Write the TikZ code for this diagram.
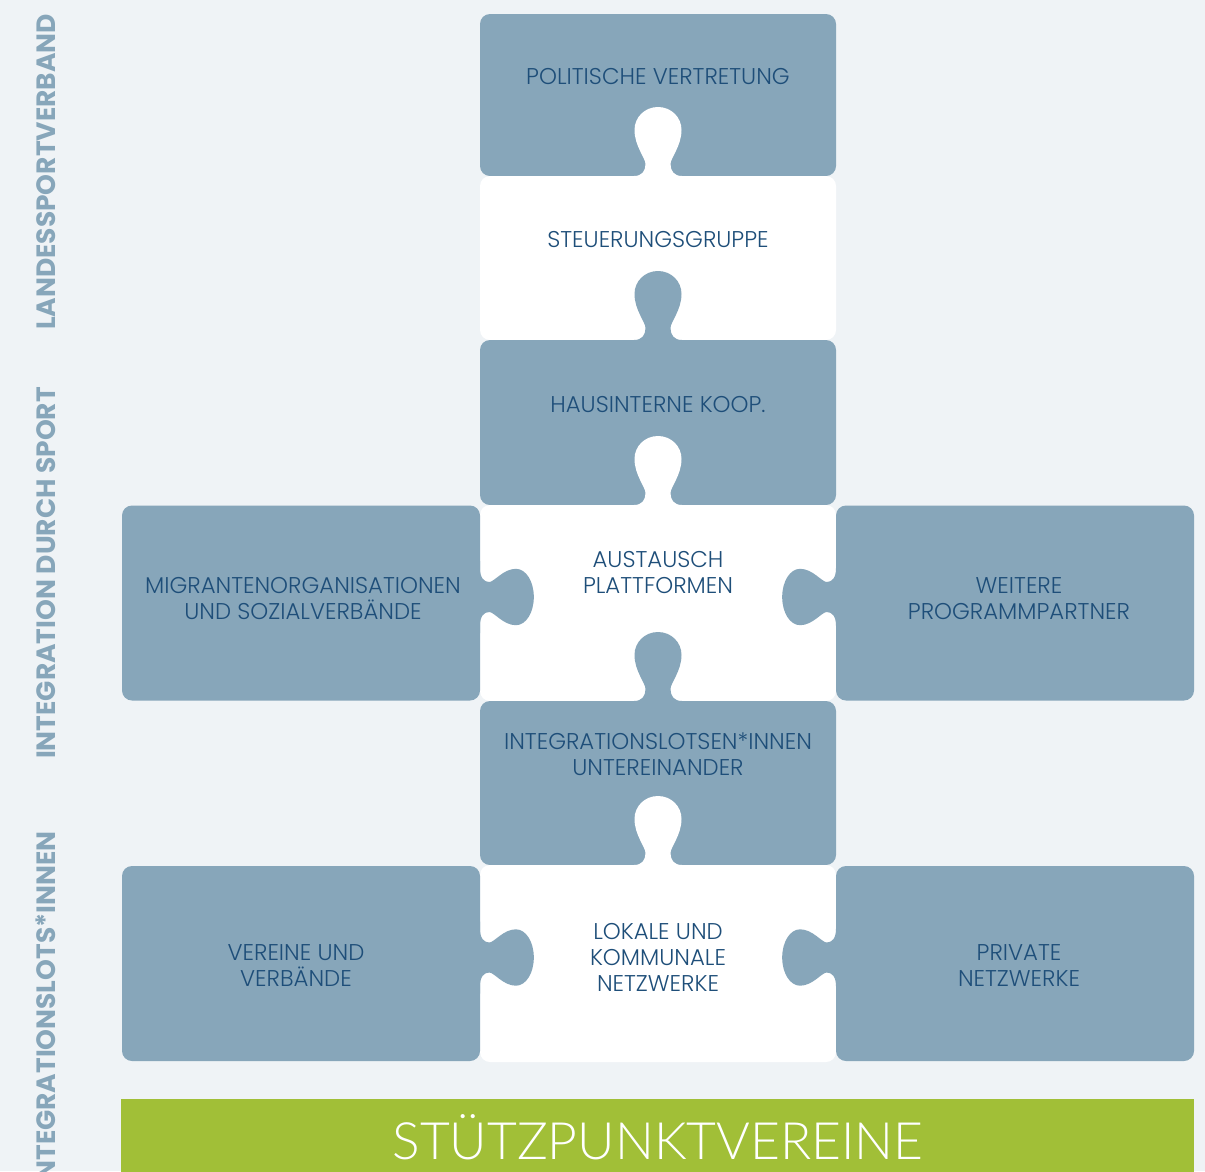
\documentclass[tikz,border=0pt]{standalone}
\usepackage{fontspec}
\setmainfont{Poppins}
\newfontfamily\lightfont{Poppins}[UprightFont=* Light]
\newfontfamily\barfont{Lato}[UprightFont=* Light]
\usetikzlibrary{positioning}

\definecolor{pieceblue}{RGB}{135,166,186}
\definecolor{bgblue}{RGB}{239,243,246}
\definecolor{textblue}{RGB}{30,78,121}
\definecolor{bargreen}{RGB}{161,191,55}

\begin{document}
\begin{tikzpicture}[x=1pt, y=-1pt,
  piece/.style={rounded corners=10pt, minimum width=356pt, inner sep=0pt, outer sep=0pt},
  bluepiece/.style={piece, fill=pieceblue},
  whitepiece/.style={piece, fill=white},
  sidepiece/.style={rounded corners=10pt, fill=pieceblue, minimum width=358pt,
    minimum height=195pt, inner sep=0pt, outer sep=0pt},
  lbl/.style={text=textblue, align=center, font=\lightfont\fontsize{22.8}{26}\selectfont},
  sidelbl/.style={text=pieceblue, rotate=90, font=\bfseries\fontsize{26.5}{26.5}\selectfont},
  knob/.pic={
    \fill[pic actions] (-30,3) -- (-30,0) -- (-24,0)
      .. controls (-16,0) and (-12.5,-5) .. (-12.5,-12)
      .. controls (-12.5,-18) and (-23.5,-30) .. (-23.5,-46)
      .. controls (-23.5,-59) and (-13,-69) .. (0,-69)
      .. controls (13,-69) and (23.5,-59) .. (23.5,-46)
      .. controls (23.5,-30) and (12.5,-18) .. (12.5,-12)
      .. controls (12.5,-5) and (16,0) .. (24,0) -- (30,0) -- (30,3) -- cycle;
  }]

  \fill[bgblue] (0,0) rectangle (1205,1171);
  \useasboundingbox (0,0) rectangle (1205,1171);

  % middle column
  \node[bluepiece, minimum height=162pt, anchor=north] (polit) at (658,14) {};
  \node[whitepiece, minimum height=164pt, below=0pt of polit] (steuer) {};
  \node[bluepiece, minimum height=165pt, below=0pt of steuer] (haus) {};
  \node[whitepiece, minimum height=196pt, below=0pt of haus] (austausch) {};
  \node[bluepiece, minimum height=164pt, below=0pt of austausch] (lotsen) {};
  \node[whitepiece, minimum height=197pt, below=0pt of lotsen] (lokal) {};

  % side pieces
  \node[sidepiece, left=0pt of austausch] (migr) {};
  \node[sidepiece, right=0pt of austausch] (weitere) {};
  \node[sidepiece, left=0pt of lokal] (vereine) {};
  \node[sidepiece, right=0pt of lokal] (privat) {};

  % knobs
  \pic[fill=white] at (steuer.north) {knob};
  \pic[fill=pieceblue] at (haus.north) {knob};
  \pic[fill=white] at (austausch.north) {knob};
  \pic[fill=pieceblue] at (lotsen.north) {knob};
  \pic[fill=white] at (lokal.north) {knob};
  \pic[fill=pieceblue, rotate=-90, xscale=1.2, yscale=0.78] at ([yshift=6pt]migr.east) {knob};
  \pic[fill=pieceblue, rotate=90, xscale=1.2, yscale=0.78] at ([yshift=6pt]weitere.west) {knob};
  \pic[fill=pieceblue, rotate=-90, xscale=1.2, yscale=0.78] at ([yshift=6pt]vereine.east) {knob};
  \pic[fill=pieceblue, rotate=90, xscale=1.2, yscale=0.78] at ([yshift=6pt]privat.west) {knob};

  % labels
  \node[lbl] (t-polit) at (658,77) {POLITISCHE VERTRETUNG};
  \node[lbl] (t-steuer) at (658,240) {STEUERUNGSGRUPPE};
  \node[lbl] (t-haus) at (658,405) {HAUSINTERNE KOOP.};
  \node[lbl] (t-austausch) at (658,573) {AUSTAUSCH\\PLATTFORMEN};
  \node[lbl] (t-lotsen) at (658,754) {INTEGRATIONSLOTSEN*INNEN\\UNTEREINANDER};
  \node[lbl] (t-lokal) at (658,957) {LOKALE UND\\KOMMUNALE\\NETZWERKE};
  \node[lbl] (t-migr) at (303,599) {MIGRANTENORGANISATIONEN\\UND SOZIALVERBÄNDE};
  \node[lbl] (t-weitere) at (1019,599) {WEITERE\\PROGRAMMPARTNER};
  \node[lbl] (t-vereine) at (296,966) {VEREINE UND\\VERBÄNDE};
  \node[lbl] (t-privat) at (1019,966) {PRIVATE\\NETZWERKE};

  % vertical titles
  \node[sidelbl] (v-lsv) at (46,172) {LANDESSPORTVERBAND};
  \node[sidelbl] (v-ids) at (46,573) {INTEGRATION DURCH SPORT};
  \node[sidelbl, anchor=east] (v-lotsen) at (46,828) {INTEGRATIONSLOTS*INNEN};

  % base bar
  \node[fill=bargreen, minimum width=1073pt, minimum height=80pt, inner sep=0pt,
    anchor=north west] (stuetz) at (121,1099) {};
  \node[text=white, font=\barfont\fontsize{51.5}{51.5}\selectfont] (t-stuetz) at (658,1137) {STÜTZPUNKTVEREINE};

\end{tikzpicture}
\end{document}
